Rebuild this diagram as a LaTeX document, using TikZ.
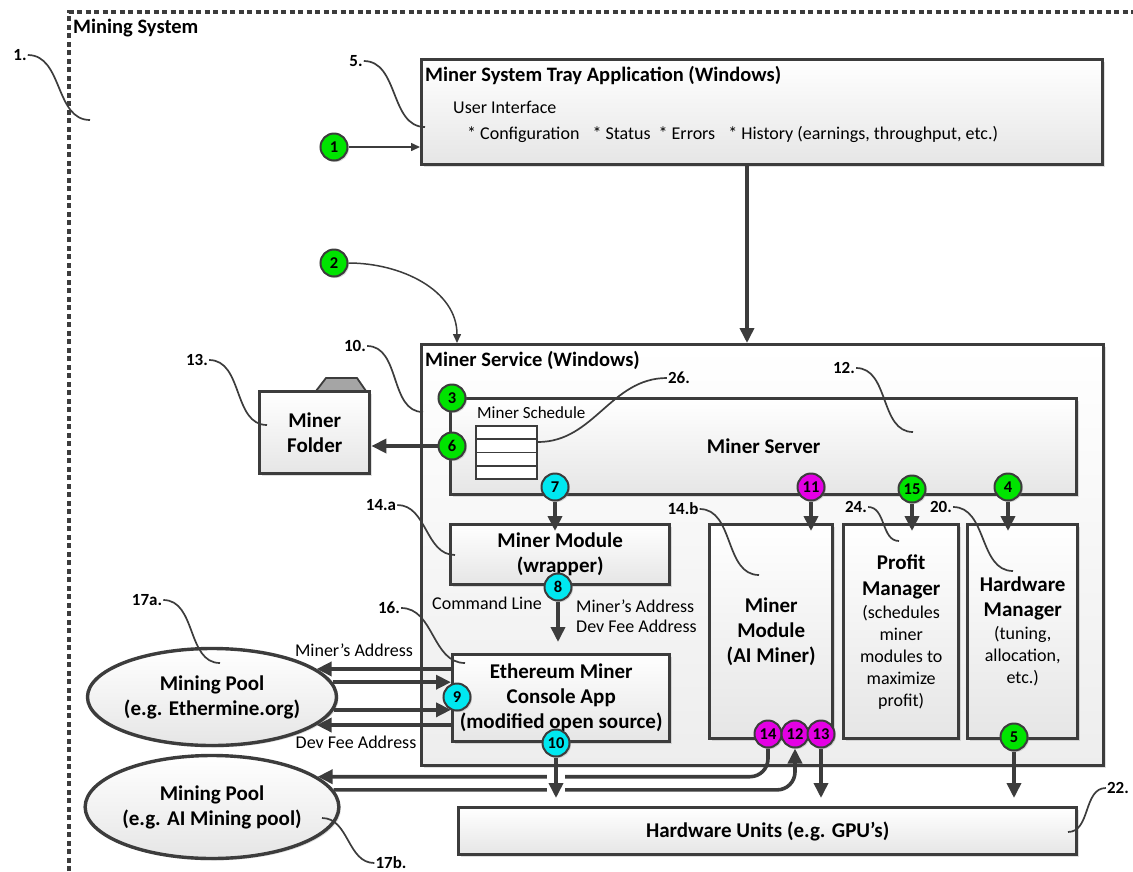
\documentclass[tikz,border=0pt]{standalone}
\usepackage{fontspec}
\setmainfont{Carlito}
\usepackage{tikz}
\usetikzlibrary{arrows.meta}
\usetikzlibrary{shapes.geometric}
\usetikzlibrary{shadows}

\definecolor{ink}{RGB}{60,60,60}
\definecolor{ballgreen}{RGB}{0,228,0}
\definecolor{ballcyan}{RGB}{0,232,240}
\definecolor{ballmag}{RGB}{228,0,228}
\definecolor{tabgray}{RGB}{165,165,165}

\newcommand{\hd}[1]{{\fontsize{21}{25}\selectfont\bfseries #1}}

\pgfdeclarelayer{front}
\pgfsetlayers{main,front}

\begin{document}
\begin{tikzpicture}[x=1pt, y=-1pt,
  box/.style={draw=ink, line width=3.4pt, top color=white, bottom color=black!10,
    drop shadow={opacity=0.25, shadow xshift=2pt, shadow yshift=-2pt},
    inner sep=0pt, align=center, font=\fontsize{21}{25}\selectfont\bfseries},
  pool/.style={box, ellipse},
  schedrow/.style={draw=ink, line width=1.8pt, fill=white, minimum width=61, minimum height=13.3, inner sep=0pt},
  ball/.style={circle, draw=ink, line width=2pt, minimum size=27pt, inner sep=0pt,
    font=\fontsize{16.5}{16.5}\selectfont\bfseries,
    drop shadow={opacity=0.3, shadow xshift=1.5pt, shadow yshift=-1.5pt}},
  bigarrow/.style={draw=ink, line width=3.6pt, -{Triangle[length=15pt, width=14pt]}},
  thinarrow/.style={draw=ink, line width=1.5pt, -{Triangle[length=9pt, width=8pt]}},
  leader/.style={draw=ink, line width=1.7pt},
  numtag/.style={font=\fontsize{17}{17}\selectfont\bfseries, inner sep=1pt},
  heading/.style={font=\fontsize{20.5}{24}\selectfont\bfseries, inner sep=0pt, anchor=base west},
  lbl/.style={font=\fontsize{18}{22}\selectfont, inner sep=0pt},
]
\useasboundingbox (0,0) rectangle (1133,871);

% outer frame
\draw[draw=ink, line width=3.2pt, dash pattern=on 5pt off 3.5pt] (69,871) -- (69,12) -- (1133,12);
\node[heading] (systitle) at (73,33) {Mining System};

% tray application
\node[box, anchor=north west, minimum width=681, minimum height=105] (tray) at (420,58) {};
\node[heading] (traytitle) at (425,81) {Miner System Tray Application (Windows)};
\node[lbl, anchor=base west] (ui) at (453,113) {User Interface};
\node[lbl, anchor=base west] (uilist) at (467,139) {* Configuration\hspace{9pt} * Status\hspace{4pt} * Errors\hspace{9pt} * History (earnings, throughput, etc.)};

% miner service
\node[box, anchor=north west, minimum width=682, minimum height=421, bottom color=black!7] (service) at (420,343) {};
\node[heading] (servicetitle) at (425,366) {Miner Service (Windows)};
\node[box, anchor=north west, minimum width=626, minimum height=96] (server) at (449,397) {Miner Server};
\node[lbl, font=\fontsize{17}{20}\selectfont, anchor=base west] (schedtitle) at (477,418) {Miner Schedule};
\node[schedrow] (row1) at (506.5,432.6) {};
\node[schedrow] (row2) at (506.5,445.9) {};
\node[schedrow] (row3) at (506.5,459.2) {};
\node[schedrow] (row4) at (506.5,472.5) {};

% folder
\filldraw[draw=ink, line width=1.8pt, fill=tabgray] (316,391) -- (326,378) -- (357,378) -- (366,391) -- cycle;
\node[box, anchor=north west, minimum width=110, minimum height=82] (folder) at (258,390) {Miner\\Folder};

% modules and managers
\node[box, anchor=north west, minimum width=219, minimum height=60] (wrapper) at (449,523) {Miner Module\\(wrapper)};
\node[box, anchor=north west, minimum width=217, minimum height=87] (eth) at (451,653) {Ethereum Miner\\Console App\\(modified open source)};
\node[box, anchor=north west, minimum width=123, minimum height=214] (aimod) at (708,523) {Miner\\Module\\(AI Miner)};
\node[box, anchor=north west, minimum width=115, minimum height=214, font=\fontsize{18}{22}\selectfont] (profit) at (842,523)
  {\hd{Profit}\\[4pt]\hd{Manager}\\[1pt](schedules\\miner\\modules to\\maximize\\profit)};
\node[box, anchor=north west, minimum width=110, minimum height=214, font=\fontsize{18}{22}\selectfont] (hwman) at (966,523)
  {\hd{Hardware}\\[3pt]\hd{Manager}\\[1pt](tuning,\\allocation,\\etc.)};
\node[box, anchor=north west, minimum width=618, minimum height=47] (hwunits) at (457,806) {Hardware Units (e.g. GPU's)};

% pools
\node[pool, minimum width=246, minimum height=97] (pool1) at (212,697) {Mining Pool\\(e.g. Ethermine.org)};
\node[pool, minimum width=246, minimum height=103] (pool2) at (212,807) {Mining Pool\\(e.g. AI Mining pool)};

% texts on connectors
\node[lbl, anchor=base] (cmdline) at (487,609) {Command Line};
\node[lbl, anchor=base west] (addr1) at (576,612) {Miner's Address};
\node[lbl, anchor=base west] (addr2) at (576,632) {Dev Fee Address};
\node[lbl, anchor=base] (pooladdr) at (354,656) {Miner's Address};
\node[lbl, anchor=base] (poolfee) at (356,748) {Dev Fee Address};

% numbered steps
\begin{pgfonlayer}{front}
\node[ball, fill=ballgreen] (b1) at (334,147) {1};
\node[ball, fill=ballgreen] (b2) at (334,263) {2};
\node[ball, fill=ballgreen] (b3) at (452,398) {3};
\node[ball, fill=ballgreen] (b6) at (452,446) {6};
\node[ball, fill=ballcyan] (b7) at (555,487) {7};
\node[ball, fill=ballcyan] (b8) at (558,587) {8};
\node[ball, fill=ballcyan] (b9) at (457,697) {9};
\node[ball, fill=ballcyan] (b10) at (556,743) {10};
\node[ball, fill=ballmag] (b11) at (811,487) {11};
\node[ball, fill=ballgreen] (b15) at (912,489) {15};
\node[ball, fill=ballgreen] (b4) at (1008,487) {4};
\node[ball, fill=ballmag] (b14) at (768,734) {14};
\node[ball, fill=ballmag] (b12) at (795,734) {12};
\node[ball, fill=ballmag] (b13) at (821,734) {13};
\node[ball, fill=ballgreen] (b5) at (1014,737) {5};
\end{pgfonlayer}

% connectors
\coordinate (svcin) at (457,343);
\coordinate (downlink) at (747,0);
\draw[thinarrow] (b1) -- (b1 -| tray.west);
\draw[thinarrow] (b2.east) to[out=0, in=90] (svcin);
\draw[bigarrow] (tray.south -| downlink) -- (service.north -| downlink);
\draw[bigarrow] (b6) -- (b6 -| folder.east);
\draw[bigarrow, shorten >=-8pt] (b7) -- (b7 |- wrapper.north);
\draw[bigarrow, shorten >=11pt] (b8) -- (b8 |- eth.north);
\draw[bigarrow, shorten >=-8pt] (b11) -- (b11 |- aimod.north);
\draw[bigarrow, shorten >=-8pt] (b15) -- (b15 |- profit.north);
\draw[bigarrow, shorten >=-8pt] (b4) -- (b4 |- hwman.north);
\draw[bigarrow, shorten >=8pt] (b13) -- (b13 |- hwunits.north);
\draw[bigarrow, shorten >=8pt] (b5) -- (b5 |- hwunits.north);

\draw[bigarrow] (eth.west |- pool1.15) -- (pool1.15);
\draw[bigarrow] (pool1.7) -- (eth.west |- pool1.7);
\draw[bigarrow] (pool1.-6) -- (eth.west |- pool1.-6);
\draw[bigarrow] (eth.west |- pool1.-15) -- (pool1.-15);

\draw[bigarrow, rounded corners=18pt] (b14.south) |- (pool2.16);
\draw[bigarrow, rounded corners=18pt] (pool2.8) -| (b12.south);
\draw[bigarrow, shorten >=8pt, preaction={draw=white, line width=18pt, -, shorten <=16pt, shorten >=10pt}] (b10) -- (b10 |- hwunits.north);

% reference numbers
\node[numtag] (t1) at (20,55) {1.};
\node[numtag] (t5) at (356,61) {5.};
\node[numtag] (t10) at (355,346) {10.};
\node[numtag] (t13) at (197,360) {13.};
\node[numtag] (t26) at (679,378) {26.};
\node[numtag] (t12) at (844,368) {12.};
\node[numtag] (t14a) at (381,505) {14.a};
\node[numtag] (t14b) at (683,509) {14.b};
\node[numtag] (t24) at (856,507) {24.};
\node[numtag] (t20) at (941,507) {20.};
\node[numtag] (t16) at (389,608) {16.};
\node[numtag] (t17a) at (147,600) {17a.};
\node[numtag] (t17b) at (391,863) {17b.};
\node[numtag] (t22) at (1118,788) {22.};

\coordinate (c1) at (90,120);
\coordinate (c5) at (425,127);
\coordinate (c10) at (423,412);
\coordinate (c13) at (267,425);
\coordinate (c26) at (538,442);
\coordinate (c12) at (913,432);
\coordinate (c14a) at (455,555);
\coordinate (c14b) at (759,575);
\coordinate (c24) at (899,541);
\coordinate (c20) at (1013,571);
\coordinate (c16) at (465,663);
\coordinate (c17a) at (220,663);
\coordinate (c17b) at (322,818);
\coordinate (c22) at (1068,832);

\draw[leader] (t1.east) to[out=0, in=180] (c1);
\draw[leader] (t5.east) to[out=0, in=180] (c5);
\draw[leader] (t10.east) to[out=0, in=180] (c10);
\draw[leader] (t13.east) to[out=0, in=180] (c13);
\draw[leader] (t26.west) to[out=180, in=0] (c26);
\draw[leader] (t12.east) to[out=0, in=180] (c12);
\draw[leader] (t14a.east) to[out=0, in=180] (c14a);
\draw[leader] (t14b.east) to[out=0, in=180] (c14b);
\draw[leader] (t24.east) to[out=0, in=180] (c24);
\draw[leader] (t20.east) to[out=0, in=180] (c20);
\draw[leader] (t16.east) to[out=0, in=180] (c16);
\draw[leader] (t17a.east) to[out=0, in=180] (c17a);
\draw[leader] (c17b) to[out=0, in=180] (t17b.west);
\draw[leader] (t22.west) to[out=180, in=0] (c22);

\end{tikzpicture}
\end{document}
